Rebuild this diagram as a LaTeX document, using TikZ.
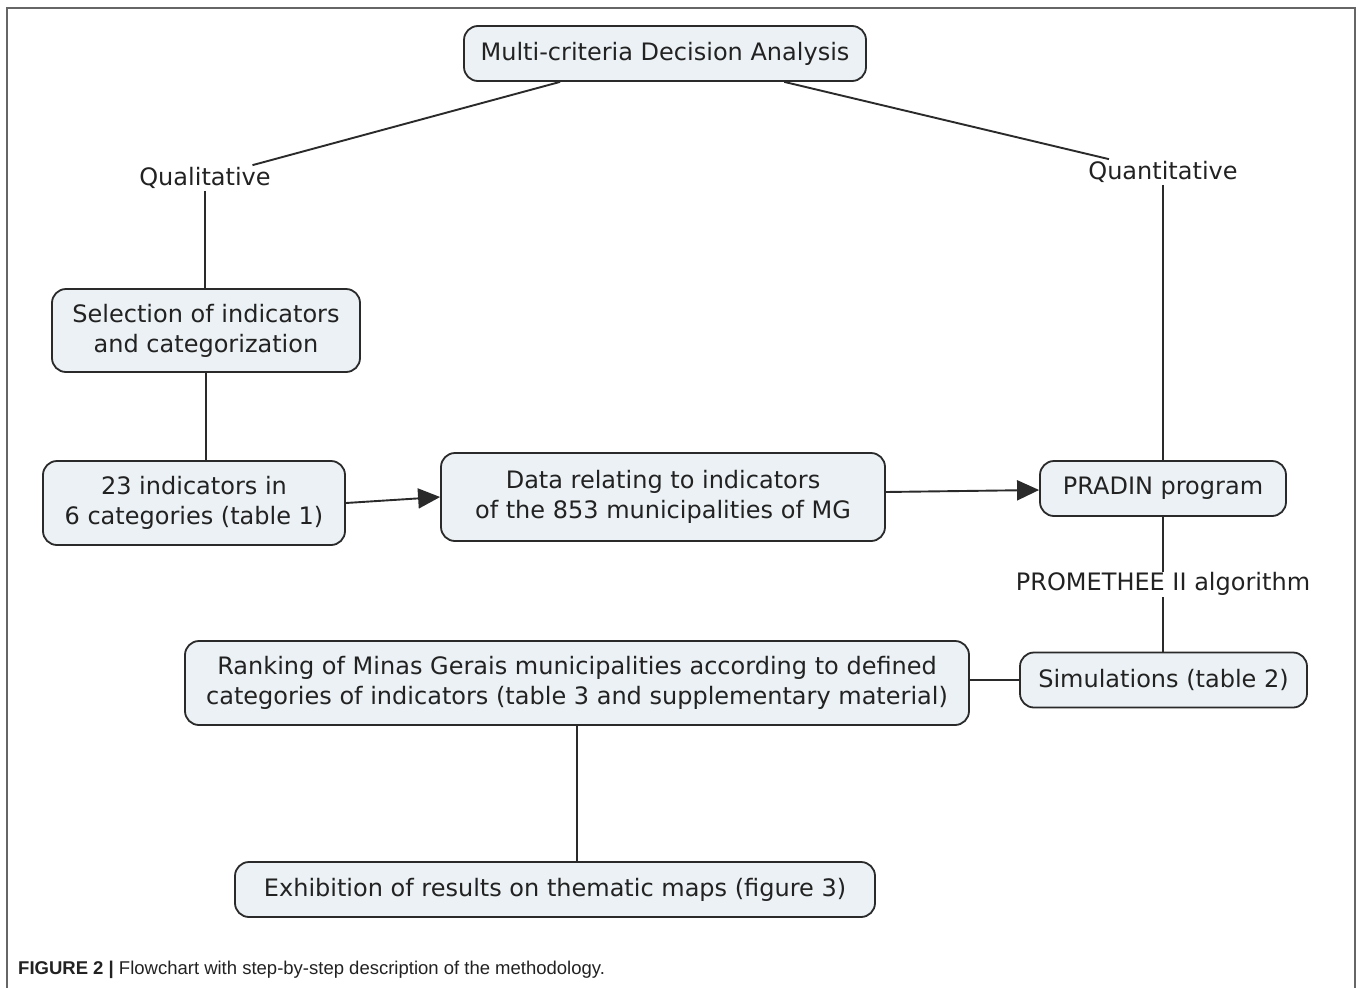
\documentclass[tikz,border=0pt]{standalone}
\usepackage{fontspec}
\setmainfont{DejaVu Sans}
\newfontfamily\capfont{Liberation Sans}
\usetikzlibrary{arrows.meta}
\definecolor{boxfill}{HTML}{EBF1F4}
\definecolor{boxline}{HTML}{2A2A2A}
\definecolor{txt}{HTML}{222222}
\definecolor{framec}{HTML}{666666}
\tikzset{
  box/.style={draw=boxline, line width=1.8pt, fill=boxfill, rounded corners=14pt,
    align=center, text=txt, inner sep=0pt, font=\fontsize{24}{30}\selectfont},
  lbl/.style={text=txt, inner sep=2pt, font=\fontsize{24}{30}\selectfont},
  conn/.style={draw=boxline, line width=1.9pt},
  arr/.style={conn, -{Triangle[length=22pt,width=20pt]}},
}
\begin{document}
\begin{tikzpicture}[x=1pt,y=-1pt]
\useasboundingbox (0,0) rectangle (1358,988);
\fill[white] (0,0) rectangle (1358,988);
\draw[framec, line width=1.5pt] (7,988) -- (7,8) -- (1355,8) -- (1355,988);

\node[box, minimum width=402pt, minimum height=55pt] (mcda) at (665,53.5) {Multi-criteria Decision Analysis};
\node[lbl] (qual) at (205,178) {Qualitative};
\node[lbl] (quant) at (1163,172) {Quantitative};
\node[box, minimum width=308pt, minimum height=83pt] (sel) at (206,330.5) {Selection of indicators\\and categorization};
\node[box, minimum width=302pt, minimum height=84pt] (ind) at (194,503) {23 indicators in\\6 categories (table 1)};
\node[box, minimum width=444pt, minimum height=88pt] (data) at (663,497) {Data relating to indicators\\of the 853 municipalities of MG};
\node[box, minimum width=246pt, minimum height=55pt] (pradin) at (1163,488.5) {PRADIN program};
\node[box, minimum width=287pt, minimum height=55pt] (sim) at (1163.5,680) {Simulations (table 2)};
\node[box, minimum width=784pt, minimum height=84pt] (rank) at (577,683) {Ranking of Minas Gerais municipalities according to defined\\categories of indicators (table 3 and supplementary material)};
\node[box, minimum width=640pt, minimum height=55pt] (exh) at (555,889.5) {Exhibition of results on thematic maps (figure 3)};

\draw[conn] (mcda) -- (qual);
\draw[conn] (mcda) -- (quant);
\draw[conn] (qual.south) -- (qual.south |- sel.north);
\draw[conn] (sel.south) -- (sel.south |- ind.north);
\draw[conn] (quant.south) -- (quant.south |- pradin.north);
\draw[arr] (ind.east) -- (data.west);
\draw[arr] ([yshift=5pt]data.east) -- ([yshift=-1.5pt]pradin.west);
\draw[conn] (pradin.south) -- node[lbl, fill=white, inner sep=1pt] (prom) {PROMETHEE II algorithm} (pradin.south |- sim.north);
\draw[conn] (sim.west) -- (sim.west -| rank.east);
\draw[conn] (rank.south) -- (rank.south |- exh.north);

\node[anchor=base west, inner sep=0pt, text=txt, font=\capfont\fontsize{18.5}{21}\selectfont] (cap) at (18,974) {\textbf{FIGURE 2 |} Flowchart with step-by-step description of the methodology.};
\end{tikzpicture}
\end{document}
